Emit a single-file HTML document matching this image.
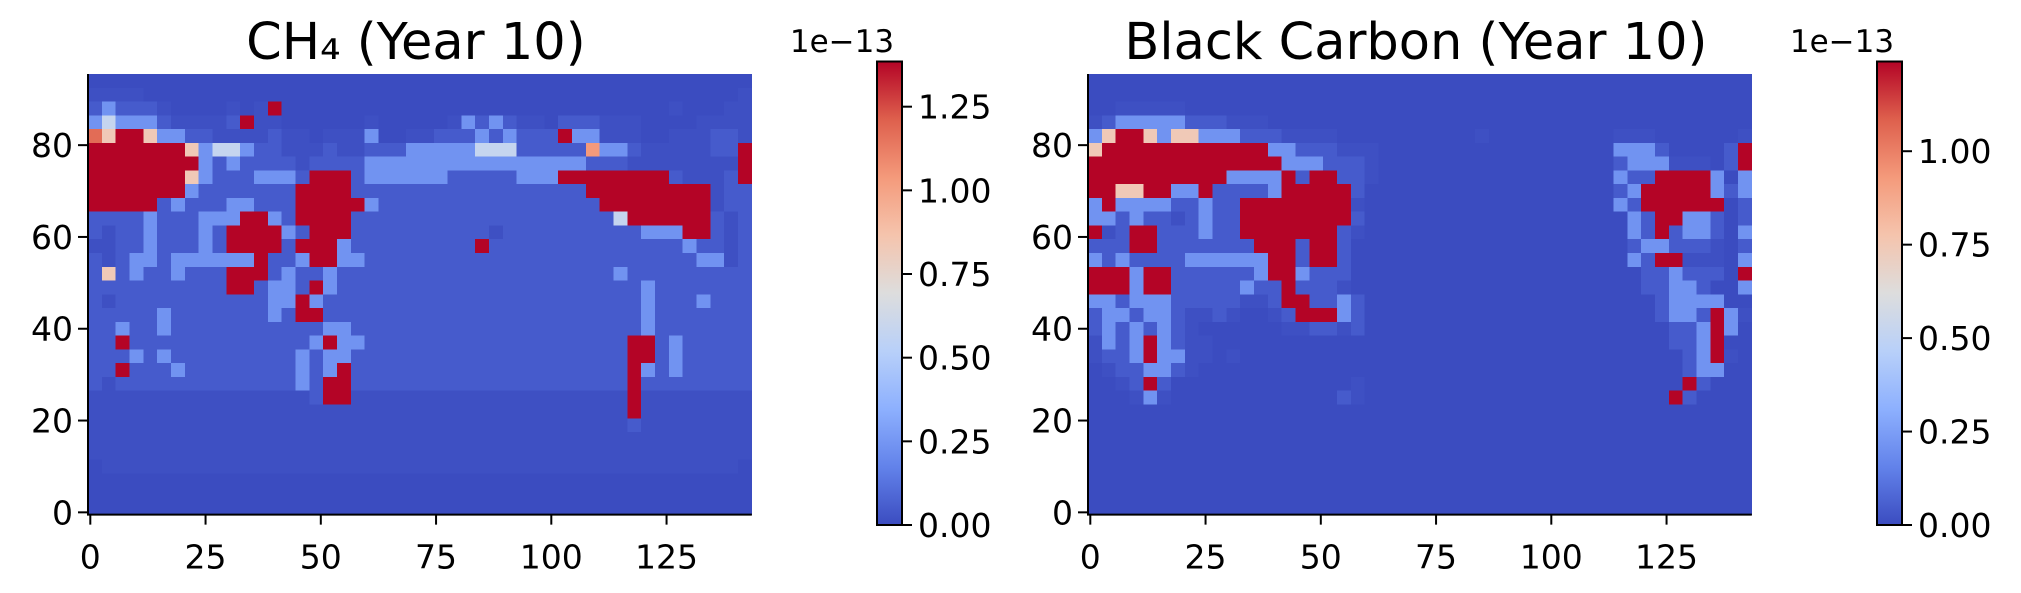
<!DOCTYPE html>
<html><head><meta charset="utf-8"><style>
html,body{margin:0;padding:0;background:#fff;}
svg{display:block;font-family:"DejaVu Sans","Liberation Sans",sans-serif;}
</style></head><body>
<svg id="fig" width="2021" height="593" viewBox="0 0 2021 593"></svg>
<script>
const ch4Grid = [
"000000000000000000000000000000000000000000000000",
"111100000000000000000000000000000000000000000001",
"232221000010190000000000000000000000000000100011",
"343332111129110000001000001323211022211100001111",
"759953322111121101113001122232322293311100111221",
"999999953443221112112223333344422222633211111229",
"999999993232222122223333333333333333222111111119",
"999999953222333299923333332222233399999999211129",
"999999932222222999922222222222222222999999999122",
"999992322233222999993222222222222222299999999122",
"222232223339932999922222222222222222224999999212",
"212232223299993299922222222221222222222233399212",
"112232223299992999322222222292222222222222232212",
"212332333333922399332222222222222222222222223312",
"252322322299923223222222222222222222223222222222",
"222222222299233293222222222222222222222232222222",
"212222222222233932222222222222222222222232223222",
"222223222222232992222222222222222222222232222222",
"223223222222222223322222222222222222222232222222",
"229222222222222239332222222222222222222992322222",
"222323222222222323322222222222222222222992322222",
"229222322222222323922222222222222222222932322222",
"212222222222222329922222222222222222222922222222",
"111111111111111129911111111111111111111911111111",
"111111111111111111111111111111111111111911111111",
"111111111111111111111111111111111111111211111111",
"111111111111111111111111111111111111111111111111",
"111111111111111111111111111111111111111111111111",
"011111111111111111111111111111111111111111111110",
"000000000000000000000000000000000000000000000000",
"000000000000000000000000000000000000000000000000",
"000000000000000000000000000000000000000000000000"
];
const bcGrid = [
"000000000000000000000000000000000000000000000000",
"000000000000000000000000000000000000000000000000",
"001111100000000000000000000000000000000000000000",
"123333322211100000000000000000000000000000000000",
"359953553332221111000000000010000000001110000001",
"599999999999933222111000000000000000003332000029",
"999999999999993332221000000000000000002333111029",
"999999999933339299221000000000000000003229999303",
"995599339222239999920000000000000000002399999323",
"393333223229999999910000000000000000003299999902",
"332322123229999999920000000000000000000329933202",
"912992223229999999210000000000000000000329233203",
"222992222222999299200000000000000000000233222102",
"323222233333399299200000000000000000000329911103",
"999399222222399322200000000000000000000022322209",
"999399222223229222100000000000000000000022332003",
"332333222221129922320000000000000000000002333300",
"233233211210012999320000000000000000000002332931",
"232323210000001122120000000000000000000000223930",
"132393211000000000000000000000000000000000223900",
"122393311010000000000000000000000000000000023910",
"012233210000000000000000000000000000000000023300",
"001292000000000000010000000000000000000000092000",
"000131000000000000210000000000000000000000920000",
"000000000000000000000000000000000000000000000000",
"000000000000000000000000000000000000000000000000",
"000000000000000000000000000000000000000000000000",
"000000000000000000000000000000000000000000000000",
"000000000000000000000000000000000000000000000000",
"000000000000000000000000000000000000000000000000",
"000000000000000000000000000000000000000000000000",
"000000000000000000000000000000000000000000000000"
];
const levelFrac = [0,0.01,0.035,0.17,0.42,0.6,0.75,0.85,0.92,1.0];
const xTicks = [0,25,50,75,100,125];
const yTicks = [0,20,40,60,80];
const ch4CbarTicks = ["0.00","0.25","0.50","0.75","1.00","1.25"];
const bcCbarTicks = ["0.00","0.25","0.50","0.75","1.00"];
const ch4Vmax = 1.385;
const bcVmax = 1.24;

const NS = "http://www.w3.org/2000/svg";
const svg = document.getElementById('fig');
function mk(tag, attrs, parent){
  const e = document.createElementNS(NS, tag);
  for (const k in attrs) e.setAttribute(k, attrs[k]);
  (parent||svg).appendChild(e);
  return e;
}
const stops = [[59,76,192],[98,130,234],[141,176,254],[184,208,249],[221,221,221],[245,196,173],[244,154,123],[222,96,77],[180,4,38]];
function cmap(t){
  t = Math.max(0, Math.min(1, t));
  const p = t*8, i = Math.min(7, Math.floor(p)), f = p - i;
  const a = stops[i], b = stops[i+1];
  return `rgb(${Math.round(a[0]+(b[0]-a[0])*f)},${Math.round(a[1]+(b[1]-a[1])*f)},${Math.round(a[2]+(b[2]-a[2])*f)})`;
}
const defs = mk('defs', {});
const grad = mk('linearGradient', {id:'cw', x1:0, y1:1, x2:0, y2:0}, defs);
stops.forEach((s,i)=>mk('stop', {offset: i/8, 'stop-color': `rgb(${s[0]},${s[1]},${s[2]})`}, grad));

function panel(name, title, grid, vmax, x0, cbx, cbTicks){
  const y0 = 74, ux = 4.61, uy = 4.59;
  const xs = v => x0 + (v + 0.5) * ux;
  const ys = v => y0 + (95.5 - v) * uy;
  const g = mk('g', {'shape-rendering':'crispEdges'});
  
  
  grid.forEach((row, r) => {
    for (let c = 0; c < row.length; c++) {
      const val = levelFrac[+row[c]] * vmax;
      const ux0 = c*3 - 0.5, uyTop = 95 - r*3 + 0.5;
      const rect = mk('rect', {x: xs(ux0), y: ys(uyTop), width: 3*ux + 0.3, height: 3*uy + 0.3, fill: cmap(val / vmax)}, g);
      
      
    }
  });
  const left = xs(-0.5), bottom = ys(-0.5), right = xs(143.5);
  const ax = mk('path', {d:`M${left},${y0} V${bottom} H${right}`, stroke:'#000', 'stroke-width':2, fill:'none'});
  
  
  xTicks.forEach(v => {
    mk('line', {x1: xs(v), x2: xs(v), y1: bottom, y2: bottom + 10, stroke:'#000', 'stroke-width':2});
    const t = mk('text', {x: xs(v), y: bottom + 54, 'font-size': 33, 'text-anchor':'middle'});
    t.textContent = v;
    
    
  });
  yTicks.forEach(v => {
    mk('line', {x1: left - 10, x2: left, y1: ys(v), y2: ys(v), stroke:'#000', 'stroke-width':2});
    const t = mk('text', {x: left - 15, y: ys(v) + 12, 'font-size': 33, 'text-anchor':'end'});
    t.textContent = v;
    
    
  });
  const tt = mk('text', {x: (left + right)/2 - 4, y: 59, 'font-size': 51, 'text-anchor':'middle'});
  tt.textContent = title;
  
  
  const cbTop = 61.5, cbBot = 525, cbW = 25;
  const cs = v => cbBot - v / vmax * (cbBot - cbTop);
  const cb = mk('rect', {x: cbx, y: cbTop, width: cbW, height: cbBot - cbTop, fill:'url(#cw)', stroke:'#000', 'stroke-width':2});
  
  
  cbTicks.forEach(s => {
    const v = parseFloat(s);
    mk('line', {x1: cbx + cbW, x2: cbx + cbW + 10, y1: cs(v), y2: cs(v), stroke:'#000', 'stroke-width':2});
    const t = mk('text', {x: cbx + cbW + 16, y: cs(v) + 12, 'font-size': 33});
    t.textContent = s;
    
    
  });
  const off = mk('text', {x: cbx - 35, y: 52, 'font-size': 31, 'text-anchor':'middle'});
  off.textContent = '1e\u221213';
  
  
}
panel('ch4', 'CH\u2084 (Year 10)', ch4Grid, ch4Vmax, 88, 877, ch4CbarTicks);
panel('black-carbon', 'Black Carbon (Year 10)', bcGrid, bcVmax, 1088, 1877, bcCbarTicks);
</script>
</body></html>
